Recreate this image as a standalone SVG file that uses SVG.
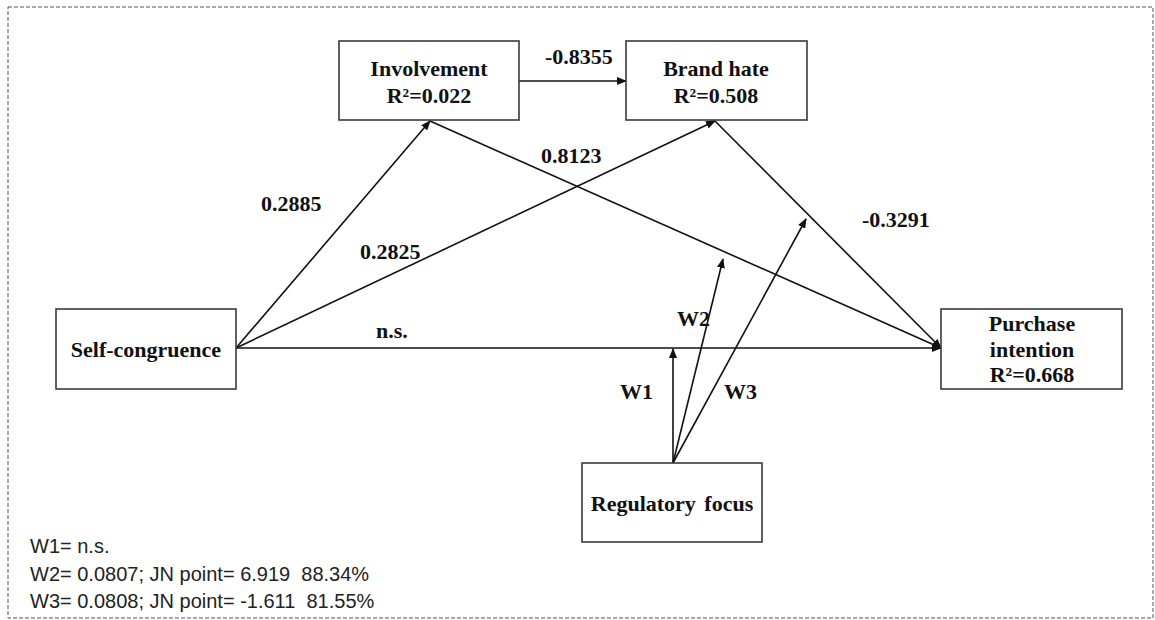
<svg xmlns="http://www.w3.org/2000/svg" width="1155" height="620" viewBox="0 0 1155 620">
<style>
.box{fill:#fff;stroke:#3a3a3a;stroke-width:1.6}
.t{font-family:"Liberation Serif","Times New Roman",serif;font-weight:bold;font-size:22px;fill:#111;text-anchor:middle}
.lab{font-family:"Liberation Serif","Times New Roman",serif;font-weight:bold;font-size:22px;fill:#111}
.leg{font-family:"Liberation Sans",Arial,sans-serif;font-size:20px;fill:#222}
.c{stroke:#111;stroke-width:1.6;fill:none;marker-end:url(#ah)}
</style>
<defs>
<marker id="ah" markerUnits="userSpaceOnUse" markerWidth="10" markerHeight="8" refX="9" refY="4" orient="auto">
<path d="M0,0 L10,4 L0,8 Z" fill="#111"/>
</marker>
</defs>
<rect x="0" y="0" width="1155" height="620" fill="#fff"/>
<rect x="8" y="7" width="1145" height="611" fill="none" stroke="#555" stroke-width="1" stroke-dasharray="4,2"/>
<g id="connectors">
<line class="c" x1="236" y1="348" x2="430" y2="121"/>
<line class="c" x1="236" y1="348" x2="715" y2="121"/>
<line class="c" x1="236" y1="348" x2="941" y2="348"/>
<line class="c" x1="430" y1="121" x2="941" y2="348"/>
<line class="c" x1="715" y1="121" x2="941" y2="348"/>
<line class="c" x1="519" y1="81" x2="626" y2="81"/>
<line class="c" x1="673" y1="463" x2="673" y2="349"/>
<line class="c" x1="673" y1="463" x2="723" y2="259"/>
<line class="c" x1="673" y1="463" x2="806" y2="219"/>
</g>
<g id="labels">
<text class="lab" x="545" y="64">-0.8355</text>
<text class="lab" x="261" y="211">0.2885</text>
<text class="lab" x="360" y="259">0.2825</text>
<text class="lab" x="541" y="163">0.8123</text>
<text class="lab" x="862" y="227">-0.3291</text>
<text class="lab" x="376" y="338">n.s.</text>
<text class="lab" x="677" y="326">W2</text>
<text class="lab" x="620" y="399">W1</text>
<text class="lab" x="724" y="399">W3</text>
</g>
<g id="involvement">
<rect class="box" x="339" y="41" width="180" height="79"/>
<text class="t" x="429" y="76">Involvement</text>
<text class="t" x="429" y="103">R²=0.022</text>
</g>
<g id="brand-hate">
<rect class="box" x="626" y="41" width="181" height="79"/>
<text class="t" x="716" y="76">Brand hate</text>
<text class="t" x="716" y="103">R²=0.508</text>
</g>
<g id="self-congruence">
<rect class="box" x="56" y="309" width="180" height="80"/>
<text class="t" x="146" y="357">Self-congruence</text>
</g>
<g id="purchase-intention">
<rect class="box" x="941" y="309" width="181" height="80"/>
<text class="t" x="1032" y="331">Purchase</text>
<text class="t" x="1032" y="357">intention</text>
<text class="t" x="1032" y="382">R²=0.668</text>
</g>
<g id="regulatory-focus">
<rect class="box" x="582" y="463" width="180" height="79"/>
<text class="t" x="672" y="511" word-spacing="3">Regulatory focus</text>
</g>
<g id="legend">
<text class="leg" x="30" y="553">W1= n.s.</text>
<text class="leg" x="30" y="581" xml:space="preserve">W2= 0.0807; JN point= 6.919  88.34%</text>
<text class="leg" x="30" y="608" xml:space="preserve">W3= 0.0808; JN point= -1.611  81.55%</text>
</g>
</svg>
